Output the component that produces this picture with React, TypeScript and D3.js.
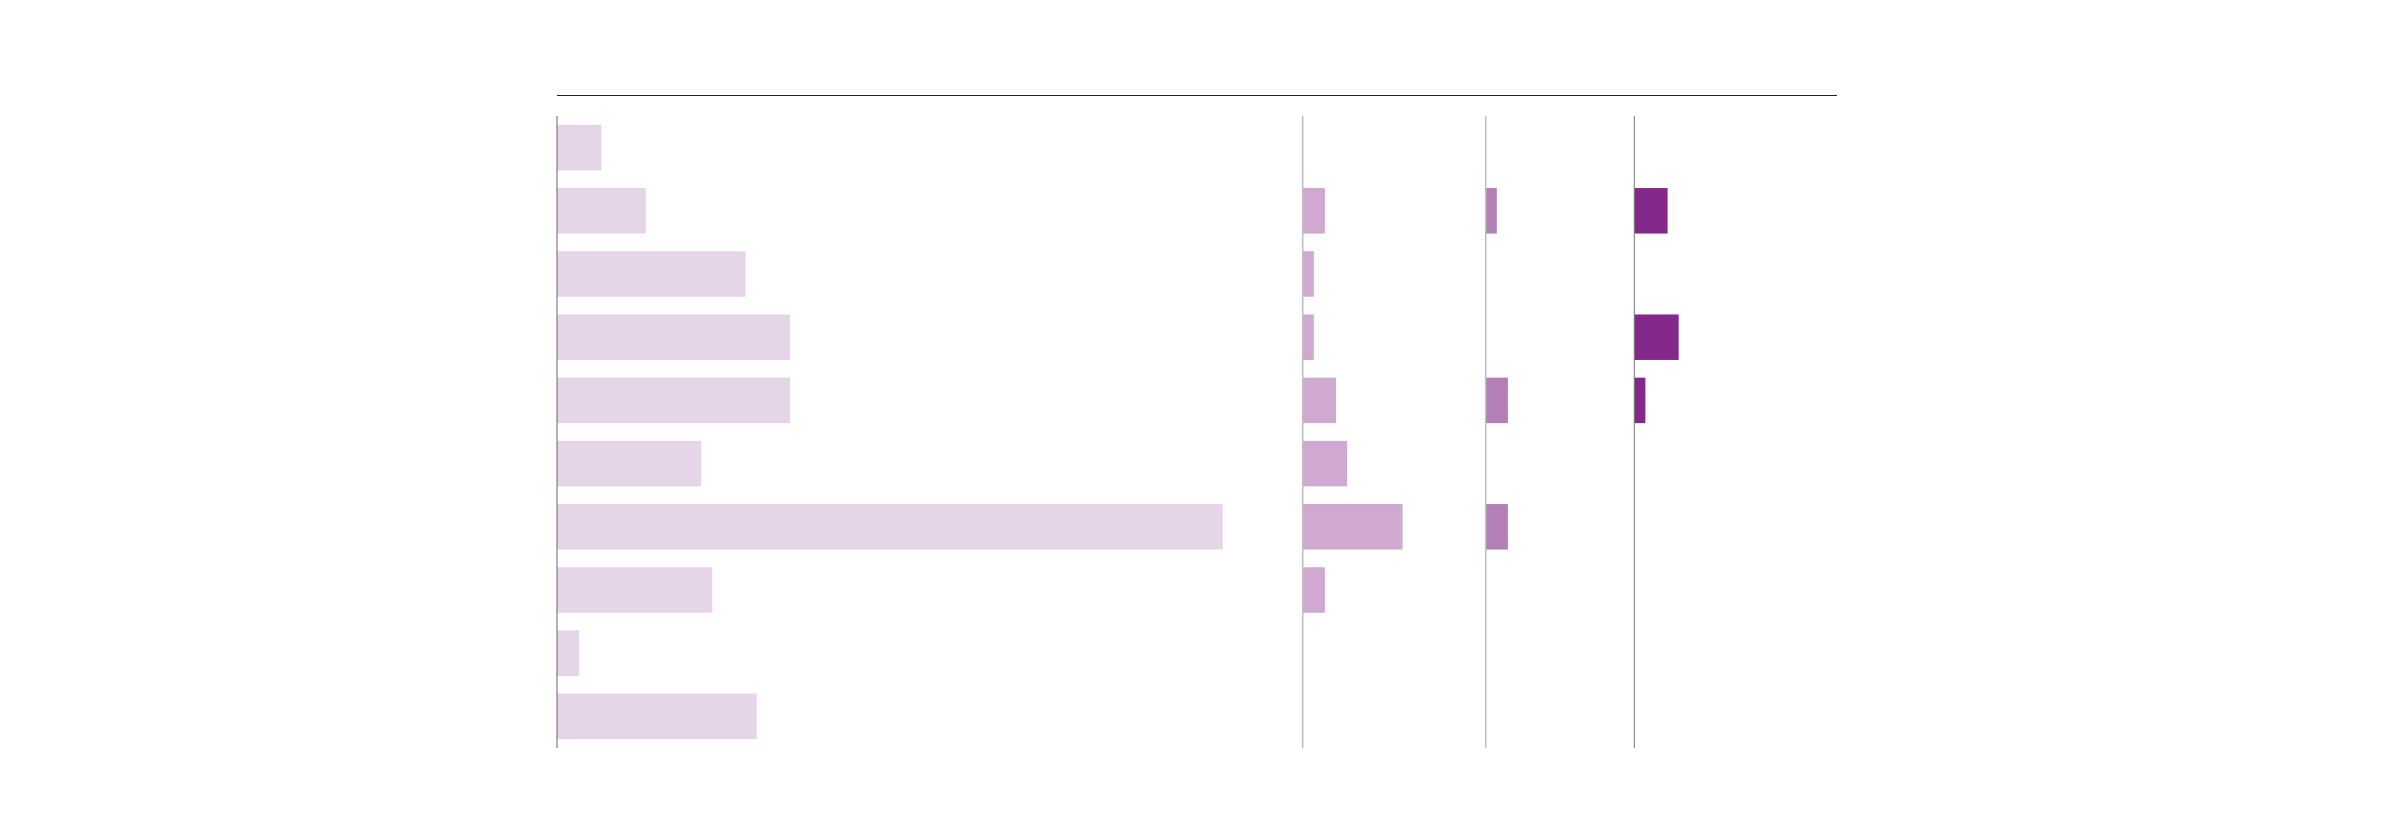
import React from "react";
import * as d3 from "d3";

const categories = ["r0", "r1", "r2", "r3", "r4", "r5", "r6", "r7", "r8", "r9"];
const seriesA = [4, 8, 17, 21, 21, 13, 60, 14, 2, 18];
const seriesB = [0, 2, 1, 1, 3, 4, 9, 2, 0, 0];
const seriesC = [0, 1, 0, 0, 2, 0, 2, 0, 0, 0];
const seriesD = [0, 3, 0, 4, 1, 0, 0, 0, 0, 0];

const panels = [
  { values: seriesA, offset: 0, color: "#e6d5e8", axis: "#6e626e", axisW: 1 },
  { values: seriesB, offset: 745.7, color: "#cfa9d0", axis: "#bdbdbd", axisW: 1.5 },
  { values: seriesC, offset: 928.7, color: "#b47eb7", axis: "#bdbdbd", axisW: 1.5 },
  { values: seriesD, offset: 1077.3, color: "#84298b", axis: "#777777", axisW: 1 },
];

export default function App() {
  const W = 2400;
  const H = 816;
  const left = 557;
  const right = 1837;
  const top = 116;
  const bottom = 748;
  const y = d3
    .scaleBand<string>()
    .domain(categories)
    .range([top, bottom])
    .paddingInner(0.28)
    .paddingOuter(0.14);
  const x = d3.scaleLinear().domain([0, 60]).range([0, 665.7]);

  return (
    <svg
      width={W}
      height={H}
      style={{ position: "absolute", left: 0, top: 0, display: "block", background: "#fff" }}
    >
      <line x1={left} x2={right} y1={95.5} y2={95.5} stroke="#222" strokeWidth={1} />
      {panels.map((p, pi) => (
        <g key={pi} transform={`translate(${left + p.offset},0)`}>
          {p.values.map((v, i) =>
            v > 0 ? (
              <rect
                key={i}
                x={0}
                y={y(categories[i])}
                width={x(v)}
                height={y.bandwidth()}
                fill={p.color}
              />
            ) : null
          )}
          <line x1={0} x2={0} y1={top} y2={bottom} stroke={p.axis} strokeWidth={p.axisW} />
        </g>
      ))}
    </svg>
  );
}
